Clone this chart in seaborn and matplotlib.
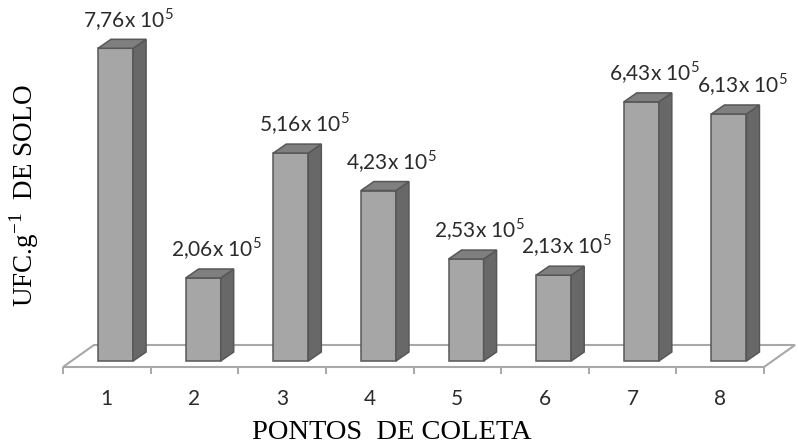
import matplotlib
matplotlib.use("Agg")
import matplotlib.pyplot as plt
from matplotlib.patches import Polygon
import seaborn as sns
import pandas as pd

# Colony counts (UFC per gram of soil) at each sampling point
pontos = ["1", "2", "3", "4", "5", "6", "7", "8"]
ufc = [7.76e5, 2.06e5, 5.16e5, 4.23e5, 2.53e5, 2.13e5, 6.43e5, 6.13e5]
expoente = 5

sns.set_theme(style="white")
plt.rcParams["font.family"] = ["Lato", "DejaVu Sans"]
plt.rcParams["mathtext.fontset"] = "custom"
plt.rcParams["mathtext.rm"] = "Lato"

UNIT = 10.0 ** expoente

FRONT = "#a6a6a6"
SIDE = "#686868"
TOP = "#7f7f7f"
EDGE = "#575757"
FLOOR_EDGE = "#a8a8a8"

fig = plt.figure(figsize=(7.98, 4.46), dpi=100)
ax = fig.add_axes([63 / 798, (446 - 367) / 446, 701 / 798, 347 / 446])

df = pd.DataFrame({"ponto": pontos, "ufc": ufc})

# pseudo-3D depth of the bars and of the floor (category units / value units)
bar_dx, bar_dy = 0.148, 0.223 * UNIT
floor_dx = 0.354
floor_front, floor_back = -0.149 * UNIT, 0.397 * UNIT

# floor of the 3D plot
n = len(pontos)
floor = Polygon(
    [(-0.5, floor_front), (n - 0.5, floor_front),
     (n - 0.5 + floor_dx, floor_back), (-0.5 + floor_dx, floor_back)],
    closed=True, facecolor="white", edgecolor=FLOOR_EDGE, linewidth=1.5,
    zorder=0.5, clip_on=False,
)
ax.add_patch(floor)

sns.barplot(data=df, x="ponto", y="ufc", width=0.4, color=FRONT,
            saturation=1, edgecolor=EDGE, linewidth=1.1, ax=ax, zorder=2)

for patch, v in zip(ax.patches[1:], ufc):
    patch.set_x(patch.get_x() + 0.10)
    x0, w, h = patch.get_x(), patch.get_width(), patch.get_height()
    x1 = x0 + w
    side = Polygon([(x1, 0), (x1 + bar_dx, bar_dy), (x1 + bar_dx, h + bar_dy), (x1, h)],
                   closed=True, facecolor=SIDE, edgecolor=EDGE, linewidth=1.1,
                   zorder=2, clip_on=False)
    top = Polygon([(x0, h), (x0 + bar_dx, h + bar_dy), (x1 + bar_dx, h + bar_dy), (x1, h)],
                  closed=True, facecolor=TOP, edgecolor=EDGE, linewidth=1.1,
                  zorder=2, clip_on=False)
    ax.add_patch(side)
    ax.add_patch(top)
    mant = f"{v / UNIT:.2f}".replace(".", ",")
    ax.text(x0 + w / 2 + 0.15, h + bar_dy + 0.30 * UNIT,
            mant + "x 10$^{\\mathregular{" + str(expoente) + "}}$",
            ha="center", va="baseline", fontsize=15, color="#2b2b2b",
            clip_on=False)

ax.set_xlim(-0.5, n - 0.5)
ax.set_ylim(floor_front, 8.462 * UNIT)

for s in ax.spines.values():
    s.set_visible(False)
ax.set_yticks([])

ax.set_xticks(range(n))
ax.set_xticklabels(pontos)
ax.set_xticks([i - 0.5 for i in range(n + 1)], minor=True)
ax.tick_params(axis="x", which="major", length=0, pad=15.5, labelsize=15,
               labelcolor="#2b2b2b")
ax.tick_params(axis="x", which="minor", length=5, width=1.4, color=FLOOR_EDGE,
               direction="out", bottom=True)

ax.set_xlabel("PONTOS  DE COLETA", fontsize=20.5, family="Liberation Serif",
              color="black")
ax.xaxis.set_label_coords(0.4686, -0.152)
ax.set_ylabel("UFC.g$^{\\mathregular{-1}}$  DE SOLO", fontsize=19.5,
              family="Liberation Serif", color="black")
ax.yaxis.set_label_coords(-0.031, 0.494)

fig.savefig("out.png", dpi=100, facecolor="white")
